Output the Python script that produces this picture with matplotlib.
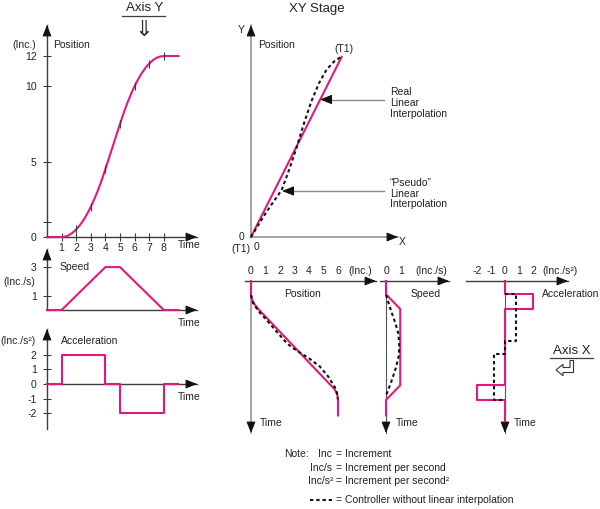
import numpy as np
import matplotlib
matplotlib.use("Agg")
import matplotlib.pyplot as plt
from matplotlib.patches import Polygon

plt.rcParams['font.family'] = ['Liberation Sans', 'DejaVu Sans']

# ---------------- data ----------------
# Axis Y (left column)
y_time = [0, 1, 1.25, 1.5, 1.75, 2, 2.25, 2.5, 2.75, 3, 3.25, 3.5, 3.75, 4, 4.25, 4.5,
          4.75, 5, 5.25, 5.5, 5.75, 6, 6.25, 6.5, 6.75, 7, 7.25, 7.5, 7.75, 8, 9]
y_pos = [0, 0, 0.03, 0.12, 0.28, 0.5, 0.78, 1.12, 1.53, 2, 2.53, 3.12, 3.78, 4.5, 5.25, 6,
         6.75, 7.5, 8.22, 8.88, 9.47, 10, 10.47, 10.88, 11.22, 11.5, 11.72, 11.88, 11.97, 12, 12]
y_speed_time = [0, 1, 4, 5, 8, 9]
y_speed = [0, 0, 3, 3, 0, 0]
y_acc_time = [0, 1, 4, 5, 8, 9]
y_acc = [0, 2, 0, -2, 0, 0]
time_ticks = [1, 2, 3, 4, 5, 6, 7, 8]
pos_ticks = [0, 1, 5, 10, 12]
pos_ticklabels = ['0', '', '5', '10', '12']
speed_ticks = [1, 3]
acc_ticks = [-2, -1, 0, 1, 2]
acc_ticklabels = ['-2', '-1', '0', '1', '2']

# XY stage
xy_real_x = [0, 6]
xy_real_y = [0, 12]
xy_pseudo_x = [0, 0.3, 0.85, 1.45, 2.03, 2.55, 3.03, 3.5, 4.0, 4.5, 5.0, 5.5, 5.95]
xy_pseudo_y = [0, 0.5, 1.4, 2.3, 3.13, 4.55, 6.0, 7.55, 9.05, 10.25, 11.15, 11.7, 12.0]

# Axis X (bottom row, time runs downward)
x_pos_time = [0, 0.95, 1.2, 1.45, 1.7, 2.0, 7.45, 7.7, 7.95, 8.2, 8.5, 9.6]
x_pos = [0, 0, 0.03, 0.12, 0.27, 0.5, 5.5, 5.74, 5.88, 5.96, 6.0, 6.0]
x_pos_pseudo_time = [1.0, 1.6, 2.19, 2.79, 3.62, 4.3, 4.64, 5.0, 5.52, 6.12, 6.83, 7.6, 8.0, 8.45]
x_pos_pseudo = [0, 0.15, 0.55, 1.08, 1.77, 2.35, 2.69, 3.2, 4.0, 4.76, 5.33, 5.79, 5.93, 6.0]
x_speed_time = [0, 0.95, 2.0, 7.45, 8.5, 9.6]
x_speed = [0, 0, 0.95, 0.95, 0, 0]
x_speed_pseudo_time = [1.0, 2.0, 3.0, 3.75, 4.5, 5.3, 6.2, 7.2, 8.2]
x_speed_pseudo = [0, 0.3, 0.62, 0.82, 0.88, 0.86, 0.66, 0.35, 0]
x_acc_time = [0, 0.95, 2.0, 7.45, 8.5, 10.0]
x_acc = [0, 2, 0, -2, 0, 0]
x_acc_pseudo_time = [0.95, 0.95, 4.3, 5.2, 8.5]
x_acc_pseudo = [0, 0.8, 0, -0.75, 0]
xpos_ticks = [0, 1, 2, 3, 4, 5, 6]
xspeed_ticks = [0, 1]
xacc_ticks = [-2, -1, 0, 1, 2]

# ---------------- style ----------------
W, H = 600, 509
MAG = '#e2187f'
AXC = '#3c3c3c'
GRAY = '#8a8a8a'
TXT = '#222222'
FS = 7.5
DASH = (0, (1.6, 1.4))

fig = plt.figure(figsize=(W / 100, H / 100), dpi=100)
fig.patch.set_facecolor('white')


def panel(ox, oy, sx, sy, left, right, top, bottom, down=False):
    ax = fig.add_axes([left / W, 1 - bottom / H, (right - left) / W, (bottom - top) / H])
    ax.set_xlim((left - ox) / sx, (right - ox) / sx)
    if down:
        ax.set_ylim((bottom - oy) / sy, (top - oy) / sy)
    else:
        ax.set_ylim((oy - bottom) / sy, (oy - top) / sy)
    ax.patch.set_visible(False)
    for s in ax.spines.values():
        s.set_visible(False)
    ax.set_xticks([])
    ax.set_yticks([])
    return ax


def arrow(ax, p0, p1, color=AXC, lw=1.0, head='#111111', hl=0.55):
    ax.plot([p0[0], p1[0]], [p0[1], p1[1]], color=color, lw=lw, clip_on=False, zorder=1)
    dx, dy = p1[0] - p0[0], p1[1] - p0[1]
    L = np.hypot(dx, dy)
    q = (p1[0] - dx / L * hl, p1[1] - dy / L * hl)
    ax.annotate('', xy=p1, xytext=q, xycoords='data', textcoords='data',
                arrowprops=dict(arrowstyle='-|>,head_length=0.75,head_width=0.3',
                                color=head, lw=0.8, mutation_scale=9,
                                shrinkA=0, shrinkB=0),
                annotation_clip=False, zorder=2)


def vsteps(t, v):
    t = np.asarray(t, float)
    v = np.asarray(v, float)
    return np.repeat(v, 2)[:-1], np.repeat(t, 2)[1:]


# ---- Axis Y : position ----
axA = panel(47, 237, 14.6, 15.08, 47, 197, 25, 237)
xa, ya = axA.get_xlim(), axA.get_ylim()
arrow(axA, (0, 0), (xa[1], 0))
arrow(axA, (0, 0), (0, ya[1]))
axA.set_xticks(time_ticks)
axA.set_xticklabels([str(t) for t in time_ticks])
axA.set_yticks(pos_ticks)
axA.set_yticklabels(pos_ticklabels)
axA.tick_params(axis='x', direction='inout', length=6, width=0.8, color=AXC,
                labelcolor=TXT, labelsize=FS, pad=1)
axA.tick_params(axis='y', direction='inout', length=6, width=0.8, color=AXC,
                labelcolor=TXT, labelsize=FS, pad=4.5)
axA.plot(y_time, y_pos, color=MAG, lw=1.5, clip_on=False, zorder=3)
mk_t = [t for t in y_time if float(t).is_integer() and 2 <= t <= 8]
mk_p = [p for t, p in zip(y_time, y_pos) if float(t).is_integer() and 2 <= t <= 8]
axA.plot(mk_t, mk_p, ls='none', marker='|', ms=6, mew=0.8, color=AXC, zorder=4)

# ---- Axis Y : speed ----
axB = panel(47, 310, 14.6, 14.3, 47, 197, 249, 310)
xb, yb = axB.get_xlim(), axB.get_ylim()
arrow(axB, (0, 0), (xb[1], 0))
arrow(axB, (0, 0), (0, yb[1]))
axB.set_yticks(speed_ticks)
axB.set_yticklabels([str(s) for s in speed_ticks])
axB.tick_params(axis='y', direction='inout', length=6, width=0.8, color=AXC,
                labelcolor=TXT, labelsize=FS, pad=4.5)
axB.plot(y_speed_time, y_speed, color=MAG, lw=1.5, clip_on=False, zorder=3)

# ---- Axis Y : acceleration ----
axC = panel(47, 384, 14.6, 14.7, 47, 197, 329, 429)
xc, yc = axC.get_xlim(), axC.get_ylim()
arrow(axC, (0, 0), (xc[1], 0))
arrow(axC, (0, yc[0]), (0, yc[1]))
axC.set_yticks(acc_ticks)
axC.set_yticklabels(acc_ticklabels)
axC.tick_params(axis='y', direction='inout', length=6, width=0.8, color=AXC,
                labelcolor=TXT, labelsize=FS, pad=4.5)
axC.plot(y_acc_time, y_acc, color=MAG, lw=1.5, drawstyle='steps-post', clip_on=False, zorder=3)

# ---- XY stage ----
axD = panel(251, 237, 15.1, 15.0, 251, 398, 25, 237)
xd, yd = axD.get_xlim(), axD.get_ylim()
arrow(axD, (0, 0), (xd[1], 0), color=GRAY, lw=1.1)
arrow(axD, (0, 0), (0, yd[1]), color=GRAY, lw=1.1)
axD.plot(xy_real_x, xy_real_y, color=MAG, lw=1.5, clip_on=False, zorder=3)
axD.plot(xy_pseudo_x, xy_pseudo_y, color='#111111', lw=1.5, ls=DASH, clip_on=False, zorder=4)

# ---- Axis X : position ----
axE = panel(251, 281, 14.5, 14.0, 245, 376, 281, 433, down=True)
xe, ye = axE.get_xlim(), axE.get_ylim()
arrow(axE, (xe[0], 0), (xe[1], 0))
arrow(axE, (0, 0), (0, ye[0]), color=GRAY, lw=1.1)
axE.xaxis.set_ticks_position('top')
axE.set_xticks(xpos_ticks + [7.55])
axE.set_xticklabels([str(v) for v in xpos_ticks] + ['(Inc.)'])
axE.tick_params(axis='x', top=True, bottom=False, length=0, labelsize=FS,
                labelcolor=TXT, pad=3.5)
axE.plot(x_pos, x_pos_time, color=MAG, lw=1.5, clip_on=False, zorder=3)
axE.plot(x_pos_pseudo, x_pos_pseudo_time, color='#111111', lw=1.5, ls=DASH,
         clip_on=False, zorder=4)

# ---- Axis X : speed ----
axF = panel(386, 281, 15.0, 14.0, 380, 449, 281, 433, down=True)
xf, yf = axF.get_xlim(), axF.get_ylim()
arrow(axF, (xf[0], 0), (xf[1], 0))
arrow(axF, (0, 0), (0, yf[0]), color='#555555', lw=0.8)
axF.xaxis.set_ticks_position('top')
axF.set_xticks(xspeed_ticks + [3.05])
axF.set_xticklabels([str(v) for v in xspeed_ticks] + ['(Inc./s)'])
axF.tick_params(axis='x', top=True, bottom=False, length=0, labelsize=FS,
                labelcolor=TXT, pad=3.5)
axF.plot(x_speed, x_speed_time, color=MAG, lw=1.5, clip_on=False, zorder=3)
axF.plot(x_speed_pseudo, x_speed_pseudo_time, color='#111111', lw=1.5, ls=DASH,
         clip_on=False, zorder=4)

# ---- Axis X : acceleration ----
axG = panel(505, 281, 14.0, 14.0, 466, 568, 281, 433, down=True)
xg, yg = axG.get_xlim(), axG.get_ylim()
arrow(axG, (xg[0], 0), (xg[1], 0))
arrow(axG, (0, 0), (0, yg[0]), color='#555555', lw=0.8)
axG.xaxis.set_ticks_position('top')
axG.set_xticks(xacc_ticks + [3.95])
axG.set_xticklabels([str(v) for v in xacc_ticks] + ['(Inc./s\u00b2)'])
axG.tick_params(axis='x', top=True, bottom=False, length=0, labelsize=FS,
                labelcolor=TXT, pad=3.5)
ga, gt = vsteps(x_acc_time, x_acc)
axG.plot(ga, gt, color=MAG, lw=1.5, clip_on=False, zorder=3)
pa, pt = vsteps(x_acc_pseudo_time, x_acc_pseudo)
axG.plot(pa, pt, color='#111111', lw=1.5, ls=DASH, clip_on=False, zorder=4)

# ---------------- overlay for labels ----------------
ov = fig.add_axes([0, 0, 1, 1])
ov.set_xlim(0, W)
ov.set_ylim(H, 0)
ov.axis('off')
ov.patch.set_visible(False)


def t(x, y, s, ha='left', size=FS, **kw):
    ov.text(x, y, s, ha=ha, va='center', fontsize=size, color=TXT, **kw)


# left column
t(145, 7.5, 'Axis Y', ha='center', size=9.5)
ov.plot([122, 165], [15.5, 15.5], color=AXC, lw=0.9)
ov.text(143.5, 30, '\u21d3', ha='center', va='center', fontsize=16, color='#333333',
        family='DejaVu Sans')
t(24, 45, '(Inc.)', ha='center')
t(53, 45, 'Position')
t(178, 245, 'Time')
t(60, 266.7, 'Speed')
t(19, 281.7, '(Inc./s)', ha='center')
t(178, 322.7, 'Time')
t(18, 340.5, '(Inc./s\u00b2)', ha='center')
t(61, 340.7, 'Acceleration')
t(178, 396.7, 'Time')

# XY stage
t(316.7, 9, 'XY Stage', ha='center', size=9.5)
t(241.7, 30, 'Y', ha='center')
t(258, 45, 'Position')
t(344, 49, '(T1)', ha='center')
for i, s in enumerate(['Real', 'Linear', 'Interpolation']):
    t(390, 91.7 + i * 11.3, s)
for i, s in enumerate(['\u201cPseudo\u201d', 'Linear', 'Interpolation']):
    t(390, 183 + i * 10.7, s)
for (x0, y0, x1) in [(384, 99.5, 320), (384, 191, 282)]:
    ov.plot([x0, x1 + 6], [y0, y0], color=GRAY, lw=1.0)
    ov.annotate('', xy=(x1, y0), xytext=(x1 + 9, y0),
                arrowprops=dict(arrowstyle='-|>,head_length=0.8,head_width=0.32',
                                color='#111111', lw=0.8, mutation_scale=9,
                                shrinkA=0, shrinkB=0))
t(241.7, 237.5, '0', ha='center')
t(240.5, 248.5, '(T1)', ha='center')
t(256, 246.5, '0', ha='center')
t(402, 241.7, 'X', ha='center')

# bottom row labels
t(302.5, 294.3, 'Position', ha='center')
t(426, 294.3, 'Speed', ha='center')
t(570.6, 294.3, 'Acceleration', ha='center')
t(259.5, 423, 'Time')
t(395.7, 423, 'Time')
t(514, 423, 'Time')

# Axis X label with return arrow
t(571.7, 350.5, 'Axis X', ha='center', size=9.5)
ov.plot([550, 593], [358.3, 358.3], color=AXC, lw=0.9)
ret = [(556, 370), (563, 364.3), (563, 367.5), (570, 367.5), (570, 360.5),
       (573.5, 360.5), (573.5, 372.5), (563, 372.5), (563, 375.7)]
ov.add_patch(Polygon(ret, closed=True, facecolor='white', edgecolor='#333333', lw=0.8))

# Note block
t(284, 454, 'Note:')
rows = [('Inc', 'Increment', 454), ('Inc/s', 'Increment per second', 468.3),
        ('Inc/s\u00b2', 'Increment per second\u00b2', 480.7)]
for lab, desc, yy in rows:
    t(332 if '\u00b2' not in lab else 333.5, yy, lab, ha='right')
    t(339, yy, '=', ha='center')
    t(345, yy, desc)
ov.plot([310, 332], [500, 500], color='#111111', lw=1.5, ls=DASH)
t(339, 500, '=', ha='center')
t(345, 500, 'Controller without linear interpolation')

fig.savefig('out.png', dpi=100, facecolor='white')
